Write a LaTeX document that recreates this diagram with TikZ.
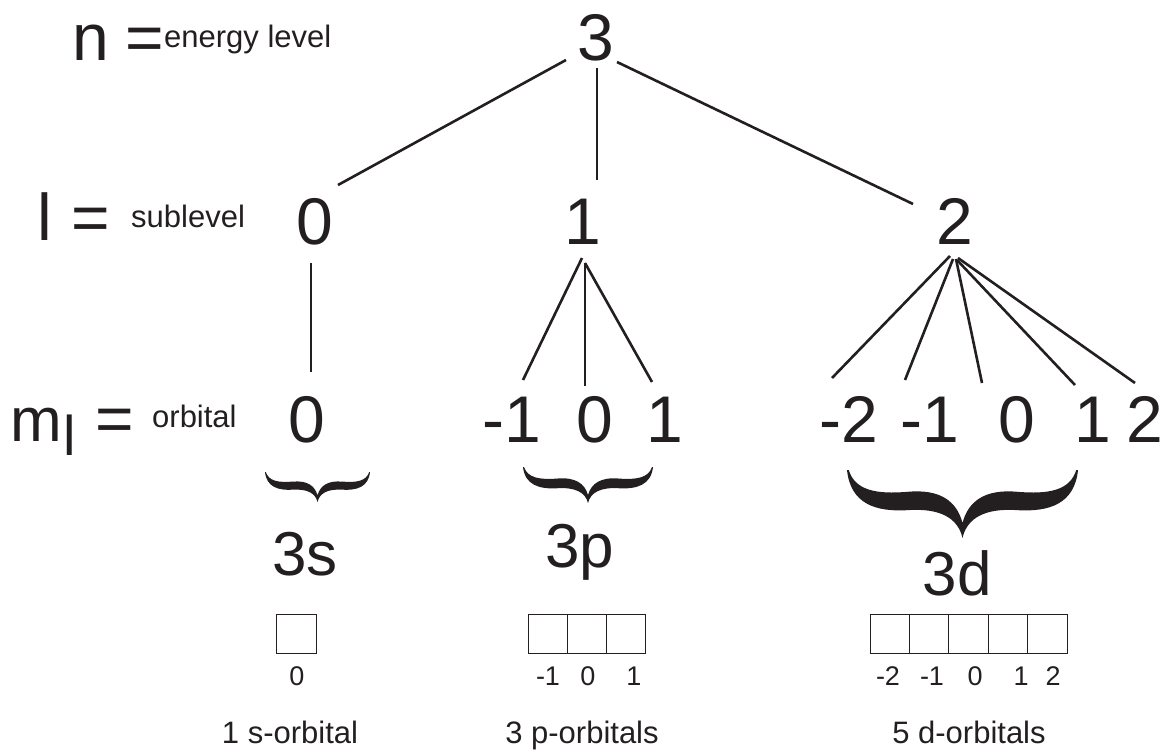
\documentclass[tikz,border=0pt]{standalone}
\usepackage{fontspec}
\setmainfont{Liberation Sans}
\definecolor{ink}{RGB}{35,31,32}
\newcommand\orbbrace[4]{\fill[ink,shift={(#1,#2)},xscale=#3,yscale=#4]
 (-1,0) .. controls (-0.97,0.5) and (-0.75,0.62) .. (-0.47,0.59)
 .. controls (-0.2,0.56) and (-0.04,0.7) .. (0,1)
 .. controls (0.04,0.7) and (0.2,0.56) .. (0.47,0.59)
 .. controls (0.75,0.62) and (0.97,0.5) .. (1,0)
 -- (0.985,0)
 .. controls (0.93,0.3) and (0.75,0.36) .. (0.47,0.32)
 .. controls (0.2,0.28) and (0.05,0.45) .. (0,0.78)
 .. controls (-0.05,0.45) and (-0.2,0.28) .. (-0.47,0.32)
 .. controls (-0.75,0.36) and (-0.93,0.3) .. (-0.985,0) -- cycle;}
\begin{document}
\begin{tikzpicture}[x=1pt,y=-1pt,
  every node/.style={text=ink,inner sep=0pt},
  big/.style={font=\fontsize{66}{66}\selectfont,anchor=base},
  bigw/.style={font=\fontsize{66}{66}\selectfont,anchor=base west},
  sub/.style={font=\fontsize{62}{62}\selectfont,anchor=base},
  word/.style={font=\fontsize{31}{31}\selectfont,anchor=base west},
  caption/.style={font=\fontsize{31}{31}\selectfont,anchor=base},
  small/.style={font=\fontsize{27}{27}\selectfont,anchor=base},
  conn/.style={draw=ink,line width=2.6pt},
  orb/.style={draw=ink,line width=0.9pt,minimum width=39.4pt,minimum height=39pt}]
\useasboundingbox (0,0) rectangle (1170,751);

% left labels
\node[bigw] (nlab) at (72,61) {n};
\node[bigw] (neq) at (125,61) {=};
\node[word] (ntext) at (164,48) {energy level};
\node[bigw] (llab) at (37,241) {l};
\node[bigw] (leq) at (71,241) {=};
\node[word] (ltext) at (131,228) {sublevel};
\node[font=\fontsize{62}{62}\selectfont,anchor=base west] (mlab) at (10,441) {m};
\node[font=\fontsize{56}{56}\selectfont,anchor=base west] (msub) at (63,455) {l};
\node[bigw] (meq) at (95,441) {=};
\node[word] (mtext) at (152,427) {orbital};

% numbers
\node[big] (n3) at (596,61) {3};
\node[big] (l0) at (315,245) {0};
\node[big] (l1) at (583,245) {1};
\node[big] (l2) at (955,245) {2};
\node[big] (ms0) at (307,442) {0};
\node[big] (mp1) at (512,442) {-1};
\node[big] (mp2) at (595,442) {0};
\node[big] (mp3) at (665,442) {1};
\node[big] (md1) at (849,442) {-2};
\node[big] (md2) at (930,442) {-1};
\node[big] (md3) at (1017,442) {0};
\node[big] (md4) at (1093,442) {1};
\node[big] (md5) at (1145,442) {2};

% connector end points
\coordinate (a1) at (566,60);  \coordinate (b1) at (338,185);
\coordinate (a2) at (597,68);  \coordinate (b2) at (597,180);
\coordinate (a3) at (617,62);  \coordinate (b3) at (913,204);
\coordinate (c0) at (311,263); \coordinate (d0) at (311,372);
\coordinate (c1) at (582,258); \coordinate (d1) at (523,380);
\coordinate (c2) at (585,263); \coordinate (d2) at (585,386);
\coordinate (d3) at (652,382);
\coordinate (e1) at (950,256); \coordinate (f1) at (832,378);
\coordinate (e2) at (953,259); \coordinate (f2) at (905,380);
\coordinate (e3) at (956,259); \coordinate (f3) at (982,383);
\coordinate (e4) at (957,260); \coordinate (f4) at (1075,385);
\coordinate (e5) at (958,258); \coordinate (f5) at (1135,383);

\draw[conn] (a1) -- (b1);
\draw[conn] (a2) -- (b2);
\draw[conn] (a3) -- (b3);
\draw[conn] (c0) -- (d0);
\draw[conn] (c1) -- (d1);
\draw[conn] (c2) -- (d2);
\draw[conn] (c2) -- (d3);
\draw[conn] (e1) -- (f1);
\draw[conn] (e2) -- (f2);
\draw[conn] (e3) -- (f3);
\draw[conn] (e4) -- (f4);
\draw[conn] (e5) -- (f5);

% braces
\orbbrace{317.5}{472}{52.5}{30}
\orbbrace{588}{467}{65}{36}
\orbbrace{962.5}{470}{115.5}{68}

% sublevel names
\node[sub] (s3s) at (305,575) {3s};
\node[sub] (s3p) at (580,567) {3p};
\node[sub] (s3d) at (957,595) {3d};

% orbital boxes
\node[orb,minimum width=40pt] (bs) at (296,633.5) {};
\node[orb,minimum width=39pt] (bp1) at (547.5,633.5) {};
\node[orb,minimum width=39pt] (bp2) at (586.5,633.5) {};
\node[orb,minimum width=39pt] (bp3) at (625.5,633.5) {};
\node[orb] (bd1) at (889.7,633.5) {};
\node[orb] (bd2) at (929.1,633.5) {};
\node[orb] (bd3) at (968.5,633.5) {};
\node[orb] (bd4) at (1007.9,633.5) {};
\node[orb] (bd5) at (1047.3,633.5) {};

% box labels
\node[small] (ls) at (297,685) {0};
\node[small] (lp1) at (548,685) {-1};
\node[small] (lp2) at (588,685) {0};
\node[small] (lp3) at (634,685) {1};
\node[small] (ld1) at (888,685) {-2};
\node[small] (ld2) at (932,685) {-1};
\node[small] (ld3) at (975,685) {0};
\node[small] (ld4) at (1021,685) {1};
\node[small] (ld5) at (1053,685) {2};

% captions
\node[caption] (cs) at (290,743) {1 s-orbital};
\node[caption] (cp) at (582,743) {3 p-orbitals};
\node[caption] (cd) at (969,743) {5 d-orbitals};
\end{tikzpicture}
\end{document}
